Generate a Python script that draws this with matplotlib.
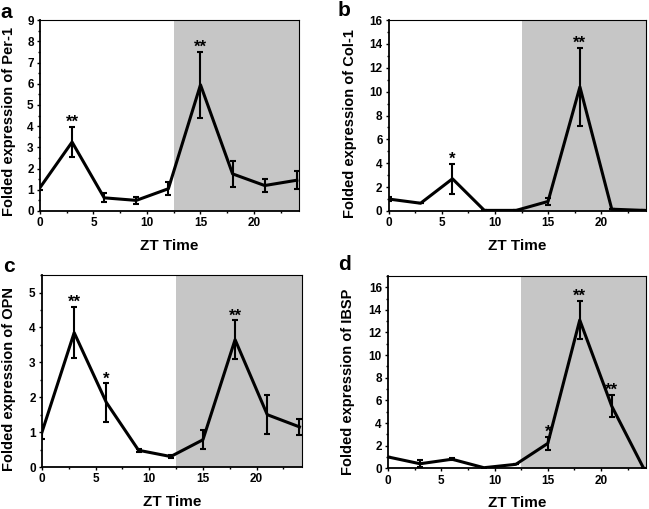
import numpy as np
import matplotlib.pyplot as plt
from matplotlib.ticker import MultipleLocator, AutoMinorLocator

plt.rcParams['font.family'] = ['Liberation Sans', 'DejaVu Sans']
plt.rcParams['font.weight'] = 'bold'

zt = [0, 3, 6, 9, 12, 15, 18, 21, 24]

per1 = [1.1, 3.25, 0.62, 0.5, 1.05, 5.95, 1.75, 1.2, 1.45]
per1_err = [0.12, 0.7, 0.22, 0.15, 0.32, 1.55, 0.6, 0.32, 0.43]
per1_stars = {3: '**', 15: '**'}

col1 = [1.0, 0.65, 2.7, 0.05, 0.05, 0.8, 10.4, 0.15, 0.05]
col1_err = [0.15, 0.0, 1.25, 0.0, 0.0, 0.3, 3.3, 0.0, 0.0]
col1_stars = {6: '*', 18: '**'}

opn = [1.0, 3.85, 1.85, 0.48, 0.3, 0.78, 3.65, 1.5, 1.15]
opn_err = [0.2, 0.73, 0.55, 0.05, 0.04, 0.27, 0.55, 0.55, 0.23]
opn_stars = {3: '**', 6: '*', 18: '**'}

ibsp = [1.0, 0.4, 0.8, 0.05, 0.35, 2.2, 13.1, 5.5, 0.0]
ibsp_err = [0.0, 0.3, 0.1, 0.0, 0.0, 0.6, 1.7, 1.0, 0.0]
ibsp_stars = {15: '*', 18: '**', 21: '**'}

# letter, gene, values, errors, stars, ymax, ystep, axes rect, ylabel pos, letter pos (px)
panels = [
    ('a', 'Per-1', per1, per1_err, per1_stars, 9, 1, [0.0616, 0.5855, 0.399, 0.375], (-0.12, 0.47), (0, 12)),
    ('b', 'Col-1', col1, col1_err, col1_stars, 16, 2, [0.599, 0.5855, 0.396, 0.375], (-0.151, 0.46), (338, 11)),
    ('c', 'OPN', opn, opn_err, opn_stars, 5.5, 1, [0.0647, 0.0825, 0.400, 0.377], (-0.127, 0.46), (3, 267)),
    ('d', 'IBSP', ibsp, ibsp_err, ibsp_stars, 17, 2, [0.598, 0.08, 0.397, 0.378], (-0.155, 0.45), (338, 265)),
]

W, H = 649, 509
fig = plt.figure(figsize=(W / 100, H / 100), dpi=100)

for letter, gene, vals, errs, stars, ymax, ystep, rect, ylab, lpos in panels:
    ax = fig.add_axes(rect)
    # dark phase shading
    ax.axvspan(12.5, 24.2, color='#c6c6c6', lw=0, zorder=0)
    ax.errorbar(zt, vals, yerr=errs, color='black', lw=2.2, elinewidth=1.5,
                capsize=2.5, capthick=1.5, zorder=3)
    for x, s in stars.items():
        i = zt.index(x)
        ax.text(x, vals[i] + errs[i], s, ha='center', va='baseline',
                fontsize=12, fontweight='bold')
    ax.set_xlim(0, 24.2)
    ax.set_ylim(0, ymax)
    ax.xaxis.set_major_locator(MultipleLocator(5))
    ax.xaxis.set_minor_locator(AutoMinorLocator(2))
    ax.yaxis.set_major_locator(MultipleLocator(ystep))
    ax.yaxis.set_minor_locator(AutoMinorLocator(2))
    ax.tick_params(which='both', direction='out', labelsize=8.5, width=1, pad=2)
    ax.tick_params(which='major', length=2.5)
    ax.tick_params(which='minor', length=1.5)
    for lbl in ax.get_xticklabels() + ax.get_yticklabels():
        lbl.set_fontweight('bold')
    ax.spines['left'].set_linewidth(1.3)
    ax.spines['bottom'].set_linewidth(1.3)
    ax.spines['top'].set_linewidth(0.8)
    ax.spines['right'].set_linewidth(0.8)
    ax.set_xlabel('ZT Time', fontsize=11, fontweight='bold', va='center')
    ax.xaxis.set_label_coords(0.5, -35 / (rect[3] * H))
    ax.set_ylabel('Folded expression of ' + gene, fontsize=10.5, fontweight='bold', va='center')
    ax.yaxis.set_label_coords(*ylab)
    fig.text(lpos[0] / W, 1 - lpos[1] / H, letter, fontsize=15, fontweight='bold',
             ha='left', va='center')

fig.savefig('out.png', dpi=100)
